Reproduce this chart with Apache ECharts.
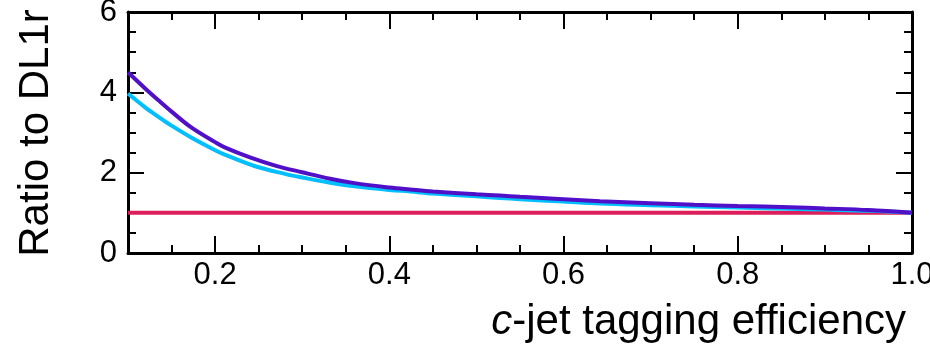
<!DOCTYPE html>
<html>
<head>
<meta charset="utf-8">
<script src="https://cdn.jsdelivr.net/npm/echarts@6/dist/echarts.min.js"></script>
<style>html,body{margin:0;padding:0;background:#fff}#c{width:930px;height:349px}</style>
</head>
<body>
<div id="c"></div>
<script>
// efficiency grid (x) and ratio values
var effPurple = [0.10,0.12,0.135,0.15,0.173,0.20,0.211,0.24,0.27,0.30,0.332,0.36,0.40,0.424,0.45,0.50,0.527,0.55,0.60,0.642,0.70,0.75,0.80,0.86,0.90,0.95,1.00];
var ratioPurple = [4.50,4.09,3.80,3.52,3.12,2.76,2.63,2.38,2.17,2.01,1.85,1.74,1.63,1.58,1.53,1.46,1.43,1.40,1.34,1.29,1.24,1.20,1.17,1.14,1.11,1.07,1.00];
var effCyan = [0.10,0.12,0.135,0.15,0.173,0.20,0.211,0.246,0.28,0.30,0.332,0.36,0.40,0.424,0.45,0.50,0.527,0.55,0.60,0.642,0.70,0.75,0.80,0.86,0.90,0.95,1.00];
var ratioCyan = [3.97,3.62,3.39,3.17,2.87,2.56,2.45,2.16,1.97,1.88,1.75,1.66,1.57,1.53,1.48,1.41,1.37,1.34,1.28,1.23,1.19,1.16,1.13,1.10,1.08,1.05,1.00];
var effRef = [0.10,1.00];
var ratioRef = [1.0,1.0];
var xMajorTicks = [0.2,0.4,0.6,0.8,1.0];
var yTitle = 'Ratio to DL1r';
var xTitle = '-jet tagging efficiency';

function zip(a,b){return a.map(function(v,i){return [v,b[i]];});}

var FONT = 'Liberation Sans';
var lineStyleAxis = {color:'#000', width:3};
function xAx(pos, major, labels){
  return {
    type:'value', position:pos, min:0.1, max:1.0, interval:0.05,
    axisLine:{show:major, lineStyle:lineStyleAxis, onZero:false},
    axisTick:{show:true, inside:true, length: major?17:8, lineStyle:{color:'#000',width:2},
      customValues: major? xMajorTicks : undefined},
    axisLabel:{show:labels, customValues: xMajorTicks, color:'#000', fontFamily:FONT, fontSize:31, margin:7,
      hideOverlap:false, showMaxLabel:true, formatter:function(v){return v.toFixed(1);}},
    splitLine:{show:false}
  };
}
function yAx(pos, labels){
  return {
    type:'value', position:pos, min:0, max:6, interval:2,
    axisLine:{show:true, lineStyle:lineStyleAxis, onZero:false},
    axisTick:{show:true, inside:true, length:16, lineStyle:{color:'#000',width:2}},
    minorTick:{show:true, splitNumber:4, length:8, lineStyle:{color:'#000',width:2}},
    axisLabel:{show:labels, color:'#000', fontFamily:FONT, fontSize:31, margin:11},
    splitLine:{show:false}
  };
}

var chart = echarts.init(document.getElementById('c'), null, {renderer:'canvas'});
chart.setOption({
  animation:false,
  backgroundColor:'#fff',
  grid:{left:128, right:18, top:12, bottom:96, containLabel:false, outerBoundsMode:'none'},
  xAxis:[xAx('bottom',true,true), xAx('bottom',false,false), xAx('top',true,false), xAx('top',false,false)],
  yAxis:[yAx('left',true), yAx('right',false)],
  series:[
    {type:'line', data:zip(effRef,ratioRef), symbol:'none', lineStyle:{color:'#dc1e5a', width:4}, z:2},
    {type:'line', data:zip(effCyan,ratioCyan), symbol:'none', smooth:0.35, lineStyle:{color:'#00bfff', width:4}, z:3},
    {type:'line', data:zip(effPurple,ratioPurple), symbol:'none', smooth:0.35, lineStyle:{color:'#5010c8', width:4}, z:4}
  ],
  graphic:[
    {type:'text', x:36, y:133, rotation:Math.PI/2, style:{text:yTitle, fill:'#000', font:'42px "Liberation Sans"', align:'center', verticalAlign:'middle'}},
    {type:'text', x:906, y:322, style:{text:'{i|c}'+xTitle, fill:'#000', align:'right', verticalAlign:'middle',
      font:'42px "Liberation Sans"',
      rich:{i:{fontStyle:'italic', fontSize:42, fontFamily:'Liberation Sans', fill:'#000'}}}}
  ]
});
</script>
</body>
</html>
